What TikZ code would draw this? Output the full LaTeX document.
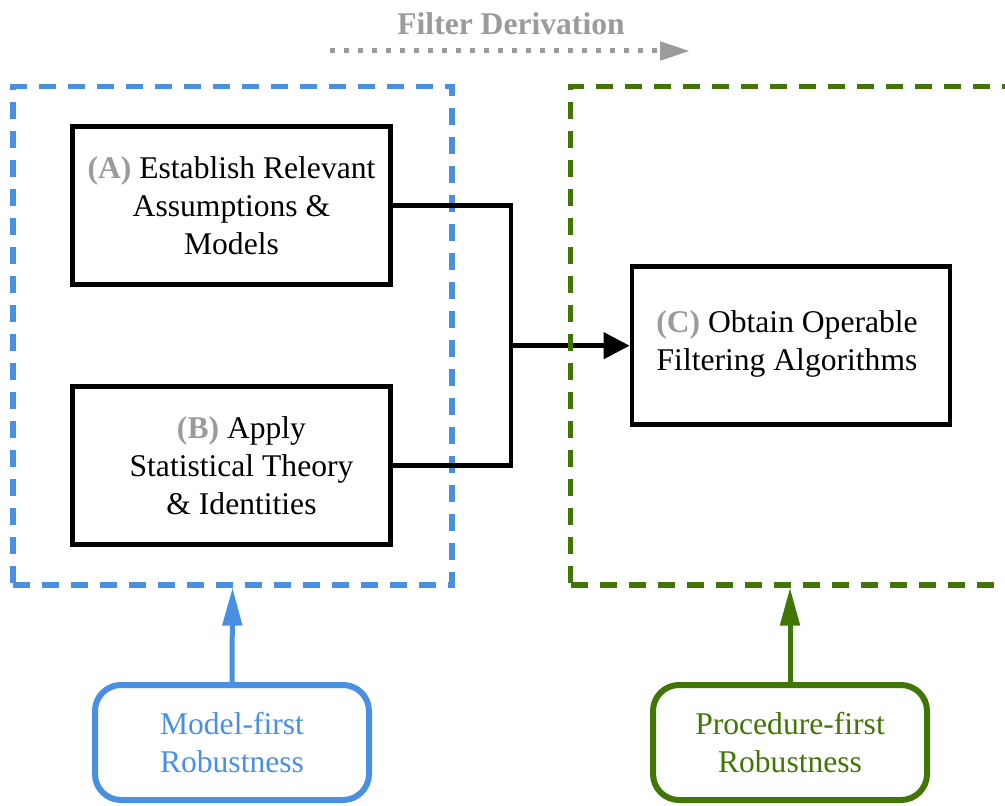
\documentclass[tikz,border=0pt]{standalone}
\usepackage{fontspec}
\setmainfont{Liberation Serif}
\usetikzlibrary{arrows.meta}
\definecolor{modelblue}{HTML}{4A90E2}
\definecolor{procgreen}{HTML}{417505}
\definecolor{labelgray}{HTML}{9B9B9B}
\newcommand{\steplabel}[1]{\textcolor{labelgray}{\textbf{#1}}}

\begin{document}
\begin{tikzpicture}[x=0.5pt,y=-0.5pt,
  font=\fontsize{15.8}{19}\selectfont,
  stepbox/.style={draw,line width=2.4pt,minimum width=159pt,minimum height=79pt,align=center,inner sep=0pt},
  steptext/.style={align=center,inner sep=0pt},
  frame/.style={draw,dash pattern=on 8.5pt off 6pt,line width=2.6pt,minimum width=219.5pt,minimum height=249.25pt,inner sep=0pt},
  tagbox/.style={draw,rounded corners=13pt,line width=3pt,minimum width=137pt,minimum height=57.5pt,align=center},
  link/.style={line width=2.3pt}]
\useasboundingbox (0,0) rectangle (1005,806);
\clip (0,0) rectangle (1005,806);

\node[font=\fontsize{15.8}{19}\selectfont\bfseries,text=labelgray,anchor=base] (derivtitle) at (511,35) {Filter Derivation};
\coordinate (derivstart) at (330,51);
\coordinate (derivend) at (690,51);
\draw[labelgray,line width=2.5pt,dash pattern=on 2.5pt off 4.5pt,-{Triangle[length=15pt,width=9pt]}] (derivstart) -- (derivend);

\node[frame,modelblue] (modelframe) at (232.5,335.75) {};

\node[stepbox] (establish) at (231.5,205.7) {\steplabel{(A)} Establish Relevant\\Assumptions \&\\Models};
\node[stepbox] (apply) at (231.5,465.7) {};
\node[steptext] (applytext) at ([xshift=5pt]apply.center) {\steplabel{(B)} Apply\\Statistical Theory\\\& Identities};
\node[stepbox] (obtain) at (791,345.7) {};
\node[steptext] (obtaintext) at ([xshift=-2pt,yshift=1pt]obtain.center) {\steplabel{(C)} Obtain Operable\\Filtering Algorithms};

\coordinate (merge) at (511,345.7);
\draw[link] (establish.east) -| (merge) |- (apply.east);
\draw[link,-{Triangle[length=13pt,width=13pt]}] (merge) -- (obtain.west);

\node[frame,procgreen] (procframe) at (790,335.75) {};

\node[tagbox,modelblue,text=modelblue] (modelfirst) at (232,742.5) {Model-first\\Robustness};
\node[tagbox,procgreen,text=procgreen] (procfirst) at (790,742.5) {Procedure-first\\Robustness};

\draw[modelblue,line width=2.5pt,-{Triangle[length=19pt,width=9.5pt]}] (modelfirst.north) -- (modelframe.south);
\draw[procgreen,line width=2.5pt,-{Triangle[length=19pt,width=9.5pt]}] (procfirst.north) -- (procfirst.north |- procframe.south);
\end{tikzpicture}
\end{document}
